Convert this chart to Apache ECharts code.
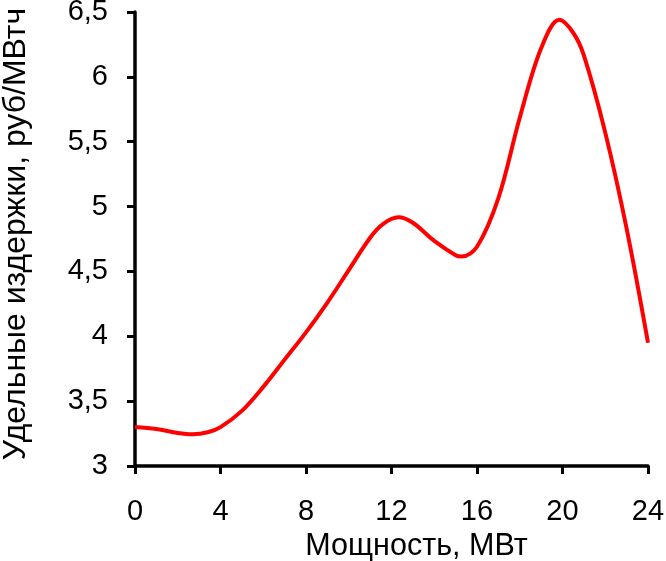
<!DOCTYPE html>
<html>
<head>
<meta charset="utf-8">
<script src="https://cdn.jsdelivr.net/npm/echarts@6/dist/echarts.min.js"></script>
<style>html,body{margin:0;padding:0;background:#fff}#c{width:666px;height:561px}</style>
</head>
<body>
<div id="c"></div>
<script>
const power = [0, 1, 2, 2.7, 3.4, 4, 5, 6, 7, 8, 9, 10, 11, 11.6, 12.32, 13, 14, 15, 15.28, 16, 17, 18, 19, 19.85, 20.5, 21, 22, 23, 24];
const cost  = [3.30, 3.285, 3.255, 3.245, 3.26, 3.30, 3.425, 3.61, 3.82, 4.03, 4.26, 4.51, 4.76, 4.865, 4.917, 4.875, 4.735, 4.625, 4.615, 4.69, 5.065, 5.685, 6.22, 6.44, 6.34, 6.165, 5.57, 4.83, 3.95];
const xTitle = 'Мощность, МВт';
const yTitle = 'Удельные издержки, руб/МВтч';

const chart = echarts.init(document.getElementById('c'));
const font = 'Liberation Sans, Arial, sans-serif';
chart.setOption({
  animation: false,
  grid: {left: 135, right: 18, top: 12, bottom: 95, containLabel: false, outerBoundsMode: 'none'},
  xAxis: {
    type: 'value', min: 0, max: 24, interval: 4,
    name: xTitle, nameLocation: 'middle', nameGap: 61,
    nameTextStyle: {fontFamily: font, fontSize: 30.5, color: '#000', padding: [0,0,0,50]},
    axisLine: {show: true, lineStyle: {color: '#000', width: 3.5}},
    axisTick: {show: true, length: 8, lineStyle: {color: '#000', width: 3}},
    axisLabel: {fontFamily: font, fontSize: 29, color: '#000', margin: 31},
    splitLine: {show: false}
  },
  yAxis: {
    type: 'value', min: 3, max: 6.5, interval: 0.5,
    name: yTitle, nameLocation: 'middle', nameGap: 103,
    nameTextStyle: {fontFamily: font, fontSize: 32, color: '#000', padding: [0,0,0,10]},
    axisLine: {show: true, lineStyle: {color: '#000', width: 3.5}},
    axisTick: {show: true, length: 8, lineStyle: {color: '#000', width: 3}},
    axisLabel: {fontFamily: font, fontSize: 29, color: '#000', margin: 27,
      formatter: v => String(v).replace('.', ',')},
    splitLine: {show: false}
  },
  series: [{
    type: 'line', smooth: 0.35, symbol: 'none',
    lineStyle: {color: '#ff0000', width: 4},
    data: power.map((p, i) => [p, cost[i]])
  }]
});
</script>
</body>
</html>
